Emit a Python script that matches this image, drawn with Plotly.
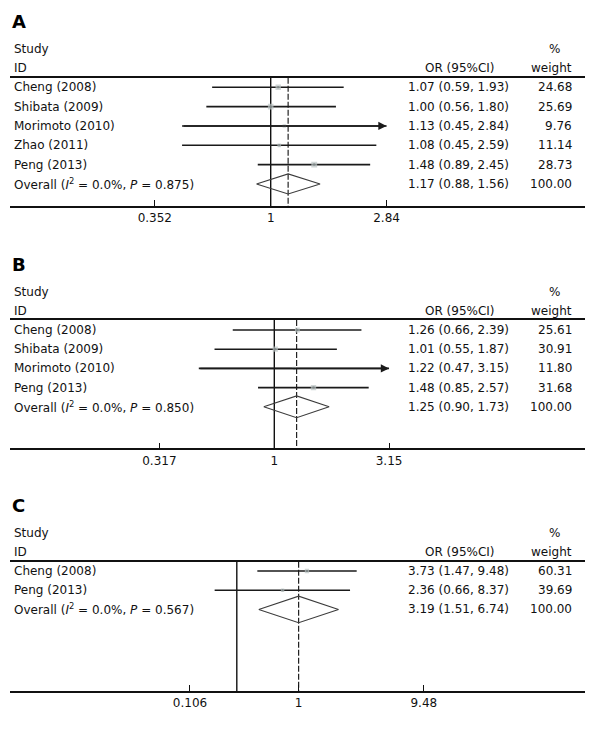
import math
import plotly.graph_objects as go

W, H = 600, 729
FONT = "DejaVu Sans"

# ---------------- data ----------------
# Panel A
studies_A = ["Cheng (2008)", "Shibata (2009)", "Morimoto (2010)", "Zhao (2011)", "Peng (2013)"]
or_A = [1.07, 1.00, 1.13, 1.08, 1.48]
lo_A = [0.59, 0.56, 0.45, 0.45, 0.89]
hi_A = [1.93, 1.80, 2.84, 2.59, 2.45]
wt_A = [24.68, 25.69, 9.76, 11.14, 28.73]
arrow_A = [False, False, True, False, False]
overall_A = [1.17, 0.88, 1.56]
het_A = ["0.0%", "0.875"]
tickvals_A = [0.352, 1, 2.84]
ticktext_A = ["0.352", "1", "2.84"]

# Panel B
studies_B = ["Cheng (2008)", "Shibata (2009)", "Morimoto (2010)", "Peng (2013)"]
or_B = [1.26, 1.01, 1.22, 1.48]
lo_B = [0.66, 0.55, 0.47, 0.85]
hi_B = [2.39, 1.87, 3.15, 2.57]
wt_B = [25.61, 30.91, 11.80, 31.68]
arrow_B = [False, False, True, False]
overall_B = [1.25, 0.90, 1.73]
het_B = ["0.0%", "0.850"]
tickvals_B = [0.317, 1, 3.15]
ticktext_B = ["0.317", "1", "3.15"]

# Panel C
studies_C = ["Cheng (2008)", "Peng (2013)"]
or_C = [3.73, 2.36]
lo_C = [1.47, 0.66]
hi_C = [9.48, 8.37]
wt_C = [60.31, 39.69]
arrow_C = [False, False]
overall_C = [3.19, 1.51, 6.74]
het_C = ["0.0%", "0.567"]
# tick labels sit where the original figure printed them
tickvals_C = [0.4155, 3.19, 33.4]
ticktext_C = ["0.106", "1", "9.48"]

# ---------------- layout helpers (pixel geometry of each panel) ----------------
panels = [
    dict(letter="A", studies=studies_A, est=or_A, lo=lo_A, hi=hi_A, wt=wt_A, arrow=arrow_A,
         ov=overall_A, het=het_A, tv=tickvals_A, tt=ticktext_A,
         top=77.7, bottom=206.0, row0=87.3, rowh=19.33, one_px=270.7, ppl=111.0, k=1.1, dh=0.52),
    dict(letter="B", studies=studies_B, est=or_B, lo=lo_B, hi=hi_B, wt=wt_B, arrow=arrow_B,
         ov=overall_B, het=het_B, tv=tickvals_B, tt=ticktext_B,
         top=320.0, bottom=448.3, row0=330.0, rowh=19.2, one_px=274.3, ppl=100.0, k=0.95, dh=0.57),
    dict(letter="C", studies=studies_C, est=or_C, lo=lo_C, hi=hi_C, wt=wt_C, arrow=arrow_C,
         ov=overall_C, het=het_C, tv=tickvals_C, tt=ticktext_C,
         top=561.7, bottom=691.0, row0=571.0, rowh=19.2, one_px=236.8, ppl=53.3, k=0.55, dh=0.69),
]

XL, XR = 10.0, 585.0
LN10 = math.log(10)

fig = go.Figure()
annotations = []
layout_axes = {}

LINE_C = "#1a1a1a"
SQ_C = "#bcc5c5"
DOT_C = "#7c8585"
DIA_C = "#3c3c3c"

for i, p in enumerate(panels):
    sfx = "" if i == 0 else str(i + 1)
    xr, yr = "x" + sfx, "y" + sfx
    n = len(p["studies"])
    rows = list(range(n))
    ov_row = n

    y_top = (p["top"] - p["row0"]) / p["rowh"]
    y_bot = (p["bottom"] - p["row0"]) / p["rowh"]
    x_lo = (XL - p["one_px"]) / p["ppl"] / LN10
    x_hi = (XR - p["one_px"]) / p["ppl"] / LN10

    layout_axes["xaxis" + sfx] = dict(
        type="log", range=[x_lo, x_hi], domain=[XL / W, XR / W], anchor=yr,
        showgrid=False, zeroline=False, showline=True, linecolor="#111", linewidth=1.6,
        mirror=True, ticks="inside", ticklen=6, tickwidth=1.2, tickcolor="#111",
        tickvals=p["tv"], ticktext=p["tt"], tickfont=dict(family=FONT, size=12, color="#111"),
        fixedrange=True,
    )
    layout_axes["yaxis" + sfx] = dict(
        range=[y_bot, y_top], domain=[1 - p["bottom"] / H, 1 - p["top"] / H], anchor=xr,
        showgrid=False, zeroline=False, showline=False, showticklabels=False, ticks="",
        fixedrange=True,
    )

    # null line at OR = 1 and dashed line at overall estimate
    fig.add_trace(go.Scatter(x=[1, 1], y=[y_top, y_bot], mode="lines", xaxis=xr, yaxis=yr,
                             line=dict(color="#111", width=1.4), hoverinfo="skip", showlegend=False))
    fig.add_trace(go.Scatter(x=[p["ov"][0], p["ov"][0]], y=[y_top, y_bot], mode="lines",
                             xaxis=xr, yaxis=yr,
                             line=dict(color="#222", width=1.2, dash="6px,2px"),
                             hoverinfo="skip", showlegend=False))

    # confidence intervals
    cx, cy = [], []
    for j in rows:
        cx += [p["lo"][j], p["hi"][j], None]
        cy += [j, j, None]
    fig.add_trace(go.Scatter(x=cx, y=cy, mode="lines", xaxis=xr, yaxis=yr,
                             line=dict(color=LINE_C, width=1.6), hoverinfo="skip", showlegend=False))

    # arrows for truncated CIs
    for j in rows:
        if p["arrow"][j]:
            annotations.append(dict(
                x=math.log10(p["hi"][j]), y=j, xref=xr, yref=yr,
                ax=math.log10(p["lo"][j]), ay=j, axref=xr, ayref=yr,
                text="", showarrow=True, arrowhead=2, arrowsize=1.1, arrowwidth=1.5,
                arrowcolor=LINE_C, standoff=0))

    # weighted squares
    fig.add_trace(go.Scatter(x=p["est"], y=rows, mode="markers", xaxis=xr, yaxis=yr,
                             marker=dict(symbol="square", color=SQ_C,
                                         size=[p["k"] * math.sqrt(w) for w in p["wt"]],
                                         line=dict(width=0)),
                             hoverinfo="skip", showlegend=False))
    fig.add_trace(go.Scatter(x=p["est"], y=rows, mode="markers", xaxis=xr, yaxis=yr,
                             marker=dict(symbol="square", color=DOT_C, size=2, line=dict(width=0)),
                             hoverinfo="skip", showlegend=False))

    # overall diamond
    e, l, h = p["ov"]
    fig.add_trace(go.Scatter(x=[l, e, h, e, l], y=[ov_row, ov_row - p["dh"], ov_row, ov_row + p["dh"], ov_row],
                             mode="lines", xaxis=xr, yaxis=yr,
                             line=dict(color=DIA_C, width=1.1), hoverinfo="skip", showlegend=False))

    # ---------- text (placed in paper coordinates from row positions) ----------
    def ypaper(row):
        return 1 - (p["row0"] + row * p["rowh"]) / H

    def txt(s, xpx, row, anchor, size=12):
        annotations.append(dict(
            x=xpx / W, y=ypaper(row), xref="paper", yref="paper", text=s, showarrow=False,
            xanchor=anchor, yanchor="middle",
            font=dict(family=FONT, size=size, color="#111")))

    annotations.append(dict(
        x=(XL - 0.5) / W, y=ypaper(-3.39), xref="paper", yref="paper",
        text="<b>%s</b>" % p["letter"],
        showarrow=False, xanchor="left", yanchor="middle",
        font=dict(family="DejaVu Sans", size=18, color="#000")))

    txt("Study", 12, -2, "left")
    txt("ID", 12, -1, "left")
    txt("OR (95%CI)", 459.5, -1, "center")
    txt("%", 554, -2, "center")
    txt("weight", 574, -1, "right")

    for j in rows:
        txt(p["studies"][j], 12, j, "left")
        txt("%.2f (%.2f, %.2f)" % (p["est"][j], p["lo"][j], p["hi"][j]), 511, j, "right")
        txt("%.2f" % p["wt"][j], 574, j, "right")

    txt("Overall (<i>I</i><sup>2</sup> = %s, <i>P</i> = %s)" % (p["het"][0], p["het"][1]), 12, ov_row, "left")
    txt("%.2f (%.2f, %.2f)" % (e, l, h), 511, ov_row, "right")
    txt("%.2f" % sum(p["wt"]), 574, ov_row, "right")

fig.update_layout(
    width=W, height=H, margin=dict(l=0, r=0, t=0, b=0),
    paper_bgcolor="white", plot_bgcolor="white",
    showlegend=False, annotations=annotations,
    font=dict(family=FONT, size=12, color="#111"),
    **layout_axes,
)

fig.write_html("out.html", config={"displayModeBar": False},
               post_script="document.body.style.margin='0';document.body.style.overflow='hidden';")
